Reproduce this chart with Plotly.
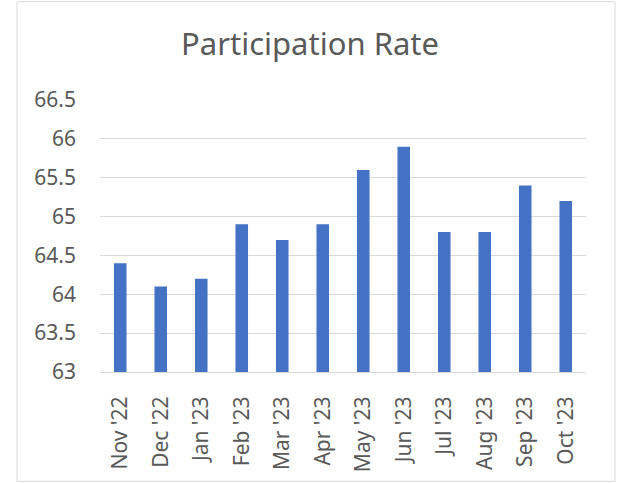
import plotly.graph_objects as go

months = ["Nov '22", "Dec '22", "Jan '23", "Feb '23", "Mar '23", "Apr '23",
          "May '23", "Jun '23", "Jul '23", "Aug '23", "Sep '23", "Oct '23"]
rates = [64.4, 64.1, 64.2, 64.9, 64.7, 64.9, 65.6, 65.9, 64.8, 64.8, 65.4, 65.2]
y_ticks = [63, 63.5, 64, 64.5, 65, 65.5, 66, 66.5]
y_tick_text = ["63", "63.5", "64", "64.5", "65", "65.5", "66", "66.5"]

W, H = 620, 483
L, R, T, B = 100, 34, 100, 110.5
pw, ph = W - L - R, H - T - B

fig = go.Figure(go.Bar(x=months, y=rates, marker=dict(color="#4472C4", line=dict(width=0)),
                       width=0.31, hoverinfo="x+y"))

fig.update_layout(
    width=W, height=H,
    margin=dict(l=L, r=R, t=T, b=B, autoexpand=False),
    paper_bgcolor="white", plot_bgcolor="white",
    font=dict(family="Noto Sans, Open Sans, sans-serif", color="#595959", size=21),
    title=dict(text="Participation Rate", x=0.5, xanchor="center", y=1 - 44 / H, yanchor="middle",
               font=dict(size=31, color="#595959")),
    showlegend=False,
)
fig.update_yaxes(range=[63, 66.5], tickvals=y_ticks, ticktext=y_tick_text,
                 showgrid=True, gridcolor="#D9D9D9", gridwidth=1, zeroline=False,
                 showline=False, ticks="", ticklabelstandoff=23,
                 tickfont=dict(size=21, color="#595959"))
fig.update_xaxes(tickangle=-90, showgrid=False, showline=True, linecolor="#D9D9D9",
                 linewidth=1, ticks="", ticklabelstandoff=15,
                 tickfont=dict(size=21, color="#595959"))

# chart border
fig.add_shape(type="rect", xref="paper", yref="paper",
              x0=(17 - L) / pw, x1=(615 - L) / pw,
              y0=(H - B - 482) / ph, y1=(H - B - 1.5) / ph,
              line=dict(color="#D9D9D9", width=1), fillcolor="rgba(0,0,0,0)", layer="below")

fig.write_html("out.html",
               config={"displayModeBar": False},
               post_script="document.body.style.margin='0';document.body.style.overflow='hidden';")
